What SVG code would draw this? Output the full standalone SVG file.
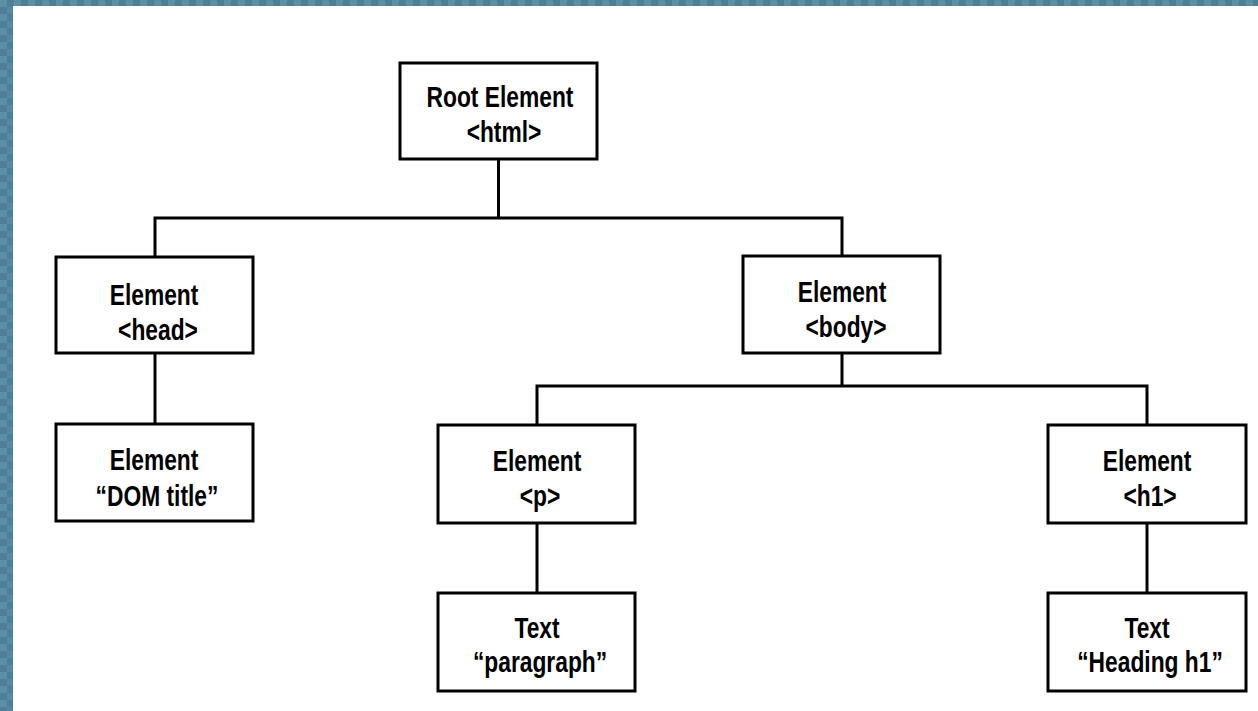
<svg xmlns="http://www.w3.org/2000/svg" width="1258" height="711" viewBox="0 0 1258 711">
<defs>
<pattern id="chk" width="14" height="14" patternUnits="userSpaceOnUse">
<rect width="14" height="14" fill="#4e7f97"/>
<rect x="0" y="0" width="7" height="7" fill="#5b8fa8"/>
<rect x="7" y="7" width="7" height="7" fill="#5689a2"/>
</pattern>
</defs>
<style>
.box{fill:#ffffff;stroke:#000000;stroke-width:3}
.lbl{font-family:"Liberation Sans",Arial,sans-serif;font-weight:bold;font-size:30px;fill:#000000;text-anchor:middle}
.con{fill:none;stroke:#000000;stroke-width:3}
</style>
<rect width="1258" height="711" fill="#ffffff"/>
<rect x="0" y="0" width="1258" height="6" fill="url(#chk)"/>
<rect x="0" y="0" width="13" height="711" fill="url(#chk)"/>
<g id="connectors">
<path class="con" d="M498.5 159 V218 M155 256 V218 H842 V256"/>
<path class="con" d="M155 353 V424"/>
<path class="con" d="M842 353 V386 M537 425 V386 H1147 V425"/>
<path class="con" d="M537 523 V593"/>
<path class="con" d="M1147 523 V593"/>
</g>
<g id="root">
<rect class="box" x="400" y="63" width="197" height="96"/>
<text class="lbl" transform="translate(500,107) scale(0.76,1)">Root Element</text>
<text class="lbl" transform="translate(504,142) scale(0.76,1)">&lt;html&gt;</text>
</g>
<g id="head">
<rect class="box" x="56" y="257" width="197" height="96"/>
<text class="lbl" transform="translate(154,305) scale(0.76,1)">Element</text>
<text class="lbl" transform="translate(158,340) scale(0.76,1)">&lt;head&gt;</text>
</g>
<g id="body">
<rect class="box" x="743" y="256" width="197" height="97"/>
<text class="lbl" transform="translate(842,302) scale(0.76,1)">Element</text>
<text class="lbl" transform="translate(846,337) scale(0.76,1)">&lt;body&gt;</text>
</g>
<g id="title">
<rect class="box" x="56" y="424" width="197" height="97"/>
<text class="lbl" transform="translate(154,470) scale(0.76,1)">Element</text>
<text class="lbl" transform="translate(157,506) scale(0.76,1)">“DOM title”</text>
</g>
<g id="p">
<rect class="box" x="438" y="425" width="197" height="98"/>
<text class="lbl" transform="translate(537,471) scale(0.76,1)">Element</text>
<text class="lbl" transform="translate(540,506) scale(0.76,1)">&lt;p&gt;</text>
</g>
<g id="paragraph">
<rect class="box" x="438" y="593" width="197" height="98"/>
<text class="lbl" transform="translate(537,638) scale(0.76,1)">Text</text>
<text class="lbl" transform="translate(540,672) scale(0.76,1)">“paragraph”</text>
</g>
<g id="h1">
<rect class="box" x="1048" y="425" width="198" height="98"/>
<text class="lbl" transform="translate(1147,471) scale(0.76,1)">Element</text>
<text class="lbl" transform="translate(1150,506) scale(0.76,1)">&lt;h1&gt;</text>
</g>
<g id="heading">
<rect class="box" x="1048" y="593" width="198" height="98"/>
<text class="lbl" transform="translate(1147,638) scale(0.76,1)">Text</text>
<text class="lbl" transform="translate(1150,672) scale(0.76,1)">“Heading h1”</text>
</g>
</svg>
